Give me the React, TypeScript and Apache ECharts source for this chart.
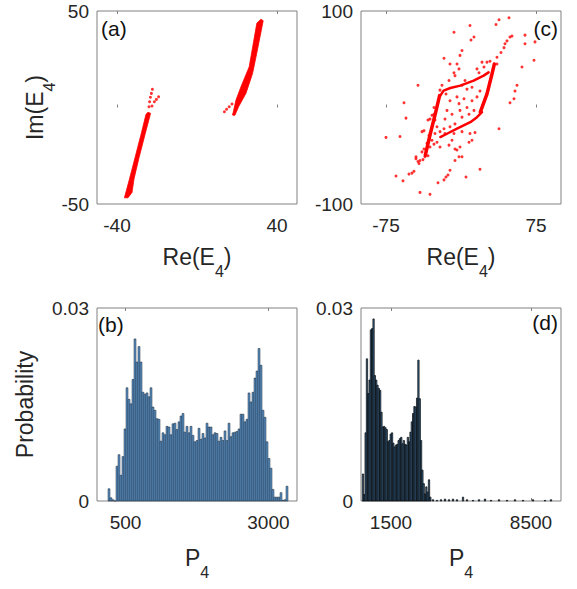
import React, { useEffect, useRef } from "react";
import * as echarts from "echarts";

const FONT = "'Liberation Sans', Arial, sans-serif";
const RED = "#ff0000";
const TXT = "#262626";
const BOX = "#808080";

// ---------- panel (a): Re(E4) vs Im(E4) ----------
const aLeftStreak: number[][] = [
  [-36.3, -46.8], [-34, -38], [-31, -26], [-28, -14], [-25.5, -3.5], [-24.5, -2.5],
  [-23.2, -3], [-26, -14], [-29, -26], [-31.5, -37], [-32.5, -44], [-34.5, -46.8],
];
const aRightStreak: number[][] = [
  [17.8, -3.9], [19.5, 3.9], [22.0, 10.8], [26.1, 21.1], [29.9, 43.6], [31.9, 45.7],
  [33.1, 45.0], [30.2, 29.8], [27.8, 17.7], [24.5, 7.4], [20.8, 0.4], [19.0, -3.9],
];
const aPoints: number[][] = [
  [-24, 0.4], [-23.7, 3], [-23.3, 5.3], [-22.8, 7.3], [-22.3, 9.4],
  [-22.5, 0.8], [-21.3, 3], [-20.3, 4.2], [-19.2, 5.6],
  [13.7, -2.2], [14.8, -0.9], [16.1, 0.4], [17.5, 1.8], [18.5, -3.5],
];

// ---------- panel (c) ----------
const cLeftStroke: number[][] = [[-21.4, 12.3], [-25.7, -6.6], [-30.7, -27.2], [-35.7, -49.5]];
const cRightStroke: number[][] = [[19.3, -4.8], [26, 14.1], [31, 34.7], [33.3, 45]];
const cUpperCurve: number[][] = [[-20.7, 12.3], [-17.4, 17.5], [-10.7, 20.2], [-0.7, 22.7], [12.6, 27.8], [22.6, 33], [27.6, 36.4]];
const cLowerCurve: number[][] = [[-20.7, -30.6], [-14, -27.2], [-4, -22], [9.3, -15.2], [16, -10], [21, -4.8]];
const cPoints: number[][] = [
  [-75, -31], [-65, -71], [-58, -76], [-61, -30], [-57, 5], [-55, -11], [-52, -69], [-49, -68], [-47, -66],
  [-43, 23], [-41, -88], [-31, -90], [-45, -53], [-42, -58], [-41, -55], [-39, -25], [-37, -24], [-33, -13],
  [-31, -12], [-29, -8], [-32, -29], [-29, -34], [-27, -38], [-24, -36], [-21, -41], [-23, -78], [-17, -75],
  [-15, -72], [-13, -70], [-11, -65], [-6, -55], [-4, -44], [-2, -51], [1, -51], [-1, -41], [5, -72],
  [8, -36], [9, -27], [11, -34], [14, -26], [19, -64], [38, -22], [49, 5], [53, 9], [54, 17], [56, 23],
  [61, 42], [64, 75], [64, 66], [73, 49], [74, 68], [38, 91], [48, 93], [35, 86], [9, 85], [13, 73],
  [10, 70], [-7, 78], [1, 59], [-1, 54], [-17, 51], [-11, 45], [-4, 45], [-2, 40], [-7, 36], [-6, 33],
  [-12, 28], [-19, 23], [-21, 18], [-15, 14], [-11, 7], [-14, -3], [-9, -7], [-16, -12], [-6, -17],
  [1, -10], [-1, -3], [6, 0], [8, -7], [13, -3], [11, 7], [16, 11], [19, 17], [-4, 11], [-2, 4], [3, 9],
  [6, 19], [11, 21], [18, 36], [23, 42], [26, 47], [29, 48], [21, 47], [16, 40], [36, 52], [40, 57],
  [43, 62], [44, 66], [46, 69], [49, 73], [51, 74], [36, 45], [4, 28], [1, 23], [-9, -34], [-12, -39],
  [-6, -43], [1, -25], [-7, -27], [-11, -20], [-16, -27], [-17, -22], [-21, -25], [-31, -41], [-33, -50],
  [-36, -51], [-38, -54], [-43, -56], [-45, -51], [-39, -46], [-37, -43], [-34, -37], [-32, -34],
  [-26, -27], [-24, -20], [-26, -13], [-27, -7], [-27, 0],
];

// ---------- panel (b): histogram of P4 ----------
const bStart = 210;
const bWidth = 35;
const bValues: number[] = [
  0.0019, 0.0005, 0.0002, 0, 0.0054, 0.0072, 0.004, 0.0069, 0.0112,
  0.0176, 0.0158, 0.0151, 0.0189, 0.0252, 0.0216, 0.024, 0.0216, 0.0169, 0.0166,
  0.0168, 0.0162, 0.0176, 0.0146, 0.0141, 0.0128, 0.0127, 0.0093, 0.0106, 0.0103,
  0.0116, 0.0115, 0.0103, 0.012, 0.0121, 0.0111, 0.0123, 0.0132, 0.0136, 0.0107,
  0.0116, 0.0106, 0.0116, 0.0102, 0.0092, 0.0094, 0.0113, 0.0096, 0.0105, 0.0098,
  0.0121, 0.0115, 0.0115, 0.0103, 0.0106, 0.0105, 0.0093, 0.0099, 0.0094, 0.0109,
  0.0094, 0.0121, 0.01, 0.0106, 0.0107, 0.0108, 0.0112, 0.0135, 0.0135, 0.0123,
  0.0127, 0.0168, 0.0154, 0.0169, 0.0191, 0.0202, 0.0237, 0.0211, 0.0141, 0.013,
  0.0092, 0.0066, 0.0051, 0.0018, 0.0006, 0.0006, 0.0006, 0.0013, 0.0001, 0.0002, 0.0023,
];

// ---------- panel (d): histogram of P4 ----------
const dStart = 100;
const dWidth = 66;
const dValues: number[] = [
  0.0042, 0.001, 0.0106, 0.0221, 0.0167, 0.0188, 0.0266, 0.0268, 0.0283, 0.0195,
  0.0188, 0.018, 0.0175, 0.0172, 0.0138, 0.0115, 0.0116, 0.0114, 0.0111, 0.0092,
  0.0094, 0.0104, 0.0106, 0.009, 0.0084, 0.0087, 0.0088, 0.0094, 0.0097, 0.0099,
  0.0089, 0.0094, 0.0088, 0.0087, 0.0099, 0.0092, 0.0107, 0.0123, 0.0136, 0.0147,
  0.0146, 0.016, 0.0219, 0.0159, 0.0094, 0.0048, 0.0027, 0.0011, 0.0022, 0.0014,
  0.0033, 0.0006,
];
const dTail: number[][] = [
  [3600, 0.0002], [3800, 0.0001], [4000, 0.0002], [4200, 0.0003], [4400, 0.0002],
  [4600, 0.0003], [4800, 0.0002], [5100, 0.0006], [5300, 0.0002], [5600, 0.0001],
  [5900, 0.0002], [6200, 0.0003], [6500, 0.0001], [6900, 0.0002], [7300, 0.0001],
  [7700, 0.0002], [8100, 0.0001], [8600, 0.0002], [9200, 0.0001], [9500, 0.0002],
];

// ---------- axes ----------
const aXTicks = [-40, 40];
const aYTicks = [-50, 50];
const cXTicks = [-75, 75];
const cYTicks = [-100, 100];
const bXTicks = [500, 3000];
const dXTicks = [1500, 8500];
const histYTicks = [0, 0.03];

const rich = {
  m: { fontSize: 23, lineHeight: 26, verticalAlign: "top", fontFamily: FONT, color: TXT },
  s: { fontSize: 16, lineHeight: 18, verticalAlign: "top", padding: [18, 0, 0, 0], fontFamily: FONT, color: TXT },
};
const subName = (main: string, sub: string) => `{m|${main}}{s|${sub}}{m|)}`;
const subNameNoParen = (main: string, sub: string) => `{m|${main}}{s|${sub}}`;
const plain = (v: number) => String(v);

function xAxes(grid: number, min: number, max: number, ticks: number[], name: string, gap: number) {
  return [
    {
      type: "value", gridIndex: grid, min, max, position: "bottom",
      axisLine: { show: false },
      splitLine: { show: false },
      axisTick: { show: true, inside: true, length: 3, customValues: ticks, lineStyle: { color: BOX } },
      axisLabel: { customValues: ticks, formatter: plain, fontSize: 19, fontFamily: FONT, color: TXT, margin: 12 },
      name, nameLocation: "middle", nameGap: gap, nameTextStyle: { rich },
    },
    {
      type: "value", gridIndex: grid, min, max, position: "top",
      axisLine: { show: false },
      splitLine: { show: false },
      axisTick: { show: true, inside: true, length: 3, customValues: ticks, lineStyle: { color: BOX } },
      axisLabel: { show: false },
    },
  ];
}

function yAxis(grid: number, min: number, max: number, ticks: number[], name: string, gap: number) {
  return {
    type: "value", gridIndex: grid, min, max,
    axisLine: { show: false },
    splitLine: { show: false },
    axisTick: { show: false },
    axisLabel: { customValues: ticks, formatter: plain, fontSize: 19, fontFamily: FONT, color: TXT, margin: 8 },
    name, nameLocation: "middle", nameGap: gap, nameTextStyle: { rich },
  };
}

function polygonSeries(xi: number, yi: number, outline: number[][]) {
  return {
    type: "custom", xAxisIndex: xi, yAxisIndex: yi,
    data: [outline[0]],
    renderItem: (_p: any, api: any) => ({
      type: "polygon",
      shape: { points: outline.map((pt) => api.coord(pt)) },
      style: { fill: RED, stroke: RED, lineWidth: 0.8 },
    }),
  };
}

function lineSeries(xi: number, yi: number, data: number[][], width: number) {
  return {
    type: "line", xAxisIndex: xi, yAxisIndex: yi, data, showSymbol: false, symbol: "none",
    lineStyle: { color: RED, width, cap: "round", join: "round" },
  };
}

function barSeries(xi: number, yi: number, data: number[][], w: number, lw: number, fill: string, stroke: string) {
  return {
    type: "custom", xAxisIndex: xi, yAxisIndex: yi, data,
    renderItem: (_p: any, api: any) => {
      const x = api.value(0);
      const v = api.value(1);
      const p0 = api.coord([x - w / 2, v]);
      const p1 = api.coord([x + w / 2, 0]);
      return {
        type: "rect",
        shape: { x: p0[0], y: p0[1], width: p1[0] - p0[0], height: p1[1] - p0[1] },
        style: { fill, stroke, lineWidth: lw },
      };
    },
  };
}

export default function App() {
  const ref = useRef<HTMLDivElement>(null);
  useEffect(() => {
    if (!ref.current) return;
    const chart = echarts.init(ref.current, null, { renderer: "svg" });
    const gridBase = { show: true, borderColor: BOX, borderWidth: 1, backgroundColor: "#fff", containLabel: false, outerBoundsMode: "none" };
    const bData = bValues.map((v, i) => [bStart + i * bWidth, v]);
    const dData = dValues.map((v, i) => [dStart + i * dWidth, v]);
    const option: any = {
      animation: false,
      backgroundColor: "#fff",
      grid: [
        { ...gridBase, left: 97, top: 11, width: 200, height: 193 },
        { ...gridBase, left: 361, top: 11, width: 200, height: 193 },
        { ...gridBase, left: 97, top: 308, width: 200, height: 193 },
        { ...gridBase, left: 361, top: 308, width: 200, height: 193 },
      ],
      xAxis: [
        ...xAxes(0, -50, 50, aXTicks, subName("Re(E", "4"), 41),
        ...xAxes(1, -100, 100, cXTicks, subName("Re(E", "4"), 41),
        ...xAxes(2, 0, 3500, bXTicks, subNameNoParen("P", "4"), 45),
        ...xAxes(3, 0, 10000, dXTicks, subNameNoParen("P", "4"), 45),
      ],
      yAxis: [
        yAxis(0, -50, 50, aYTicks, subName("Im(E", "4"), 46),
        yAxis(1, -100, 100, cYTicks, "", 40),
        yAxis(2, 0, 0.03, histYTicks, "{m|Probability}", 58),
        yAxis(3, 0, 0.03, histYTicks, "", 40),
      ],
      series: [
        polygonSeries(0, 0, aLeftStreak),
        polygonSeries(0, 0, aRightStreak),
        { type: "scatter", xAxisIndex: 0, yAxisIndex: 0, data: aPoints, symbolSize: 3, itemStyle: { color: RED } },
        lineSeries(2, 1, cLeftStroke, 3.5),
        lineSeries(2, 1, cRightStroke, 3.5),
        lineSeries(2, 1, cUpperCurve, 2.5),
        lineSeries(2, 1, cLowerCurve, 2.5),
        { type: "scatter", xAxisIndex: 2, yAxisIndex: 1, data: cPoints, symbolSize: 3, itemStyle: { color: RED } },
        barSeries(4, 2, bData, bWidth, 0.5, "#5a90c2", "#1e2b38"),
        barSeries(6, 3, dData, dWidth, 0.7, "#3f6f99", "#000"),
        barSeries(6, 3, dTail, dWidth, 0.7, "#3f6f99", "#000"),
      ],
      graphic: [
        { type: "text", x: 101, y: 28, style: { text: "(a)", fontSize: 21, fontFamily: FONT, fill: "#111", verticalAlign: "middle", align: "left" } },
        { type: "text", x: 558, y: 28, style: { text: "(c)", fontSize: 21, fontFamily: FONT, fill: "#111", verticalAlign: "middle", align: "right" } },
        { type: "text", x: 98, y: 324, style: { text: "(b)", fontSize: 21, fontFamily: FONT, fill: "#111", verticalAlign: "middle", align: "left" } },
        { type: "text", x: 558, y: 322, style: { text: "(d)", fontSize: 21, fontFamily: FONT, fill: "#111", verticalAlign: "middle", align: "right" } },
      ],
    };
    chart.setOption(option);
    return () => chart.dispose();
  }, []);
  return <div ref={ref} style={{ position: "fixed", left: 0, top: 0, width: 577, height: 589, background: "#fff" }} />;
}
